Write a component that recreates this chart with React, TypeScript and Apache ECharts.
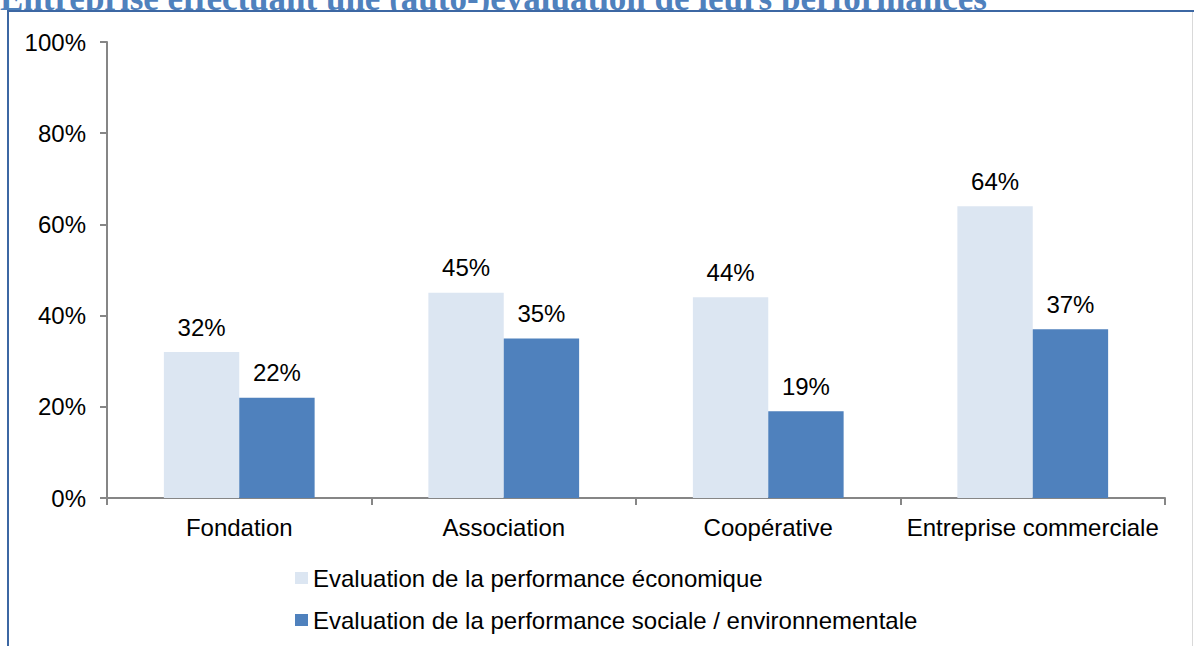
import React, { useEffect, useRef } from "react";
import * as echarts from "echarts";

const categories = ["Fondation", "Association", "Coopérative", "Entreprise commerciale"];
const economique = [32, 45, 44, 64];
const sociale = [22, 35, 19, 37];
const seriesNames = [
  "Evaluation de la performance économique",
  "Evaluation de la performance sociale / environnementale",
];
const title = "Entreprise effectuant une (auto-)évaluation de leurs performances";

export default function App() {
  const ref = useRef<HTMLDivElement>(null);
  useEffect(() => {
    const chart = echarts.init(ref.current!, null, { renderer: "svg" });
    const font = "'Liberation Sans', Arial, sans-serif";
    chart.setOption({
      animation: false,
      backgroundColor: "#fff",
      textStyle: { fontFamily: font },
      graphic: [
        {
          type: "text",
          x: 0,
          y: -2,
          style: {
            text: title,
            font: "bold 35px 'Liberation Serif', serif",
            fill: "#4F81BD",
            verticalAlign: "middle",
          },
          z: 1,
        },
        { type: "rect", shape: { x: 0, y: 12, width: 1194, height: 634 }, style: { fill: "#fff" }, z: 2 },
        { type: "line", shape: { x1: 7, y1: 11, x2: 1194, y2: 11 }, style: { stroke: "#3C67A3", lineWidth: 2 }, z: 10 },
        { type: "line", shape: { x1: 8, y1: 11, x2: 8, y2: 646 }, style: { stroke: "#3C67A3", lineWidth: 2 }, z: 10 },
        { type: "line", shape: { x1: 1192.5, y1: 12, x2: 1192.5, y2: 646 }, style: { stroke: "#D9D9D9", lineWidth: 1 }, z: 10 },
      ],
      grid: { left: 107, right: 29, top: 42, bottom: 148, z: 5 },
      legend: {
        orient: "vertical",
        left: 290,
        top: 561,
        itemWidth: 13,
        itemHeight: 12,
        itemGap: 18,
        icon: "rect",
        textStyle: { fontSize: 24, color: "#000", fontFamily: font },
        data: seriesNames,
        z: 5,
      },
      xAxis: {
        type: "category",
        data: categories,
        z: 5,
        axisLine: { lineStyle: { color: "#868686", width: 2 } },
        axisTick: { show: true, length: 7, alignWithLabel: false, lineStyle: { color: "#868686", width: 2 } },
        axisLabel: { fontSize: 24, color: "#000", margin: 17, fontFamily: font, interval: 0 },
      },
      yAxis: {
        type: "value",
        min: 0,
        max: 100,
        interval: 20,
        z: 5,
        splitLine: { show: false },
        axisLine: { show: true, lineStyle: { color: "#868686", width: 2 } },
        axisTick: { show: true, length: 7, lineStyle: { color: "#868686", width: 2 } },
        axisLabel: { fontSize: 24, color: "#000", margin: 21, formatter: "{value}%", fontFamily: font },
      },
      series: [
        {
          name: seriesNames[0],
          type: "bar",
          z: 5,
          data: economique,
          barGap: "0%",
          barCategoryGap: "43%",
          itemStyle: { color: "#DCE6F2" },
          label: { show: true, position: "top", distance: 13, formatter: "{c}%", fontSize: 24, color: "#000", fontFamily: font },
        },
        {
          name: seriesNames[1],
          type: "bar",
          z: 5,
          data: sociale,
          itemStyle: { color: "#4F81BD" },
          label: { show: true, position: "top", distance: 13, formatter: "{c}%", fontSize: 24, color: "#000", fontFamily: font },
        },
      ],
    });
    return () => chart.dispose();
  }, []);
  return <div ref={ref} style={{ position: "absolute", left: 0, top: 0, width: 1194, height: 646 }} />;
}
